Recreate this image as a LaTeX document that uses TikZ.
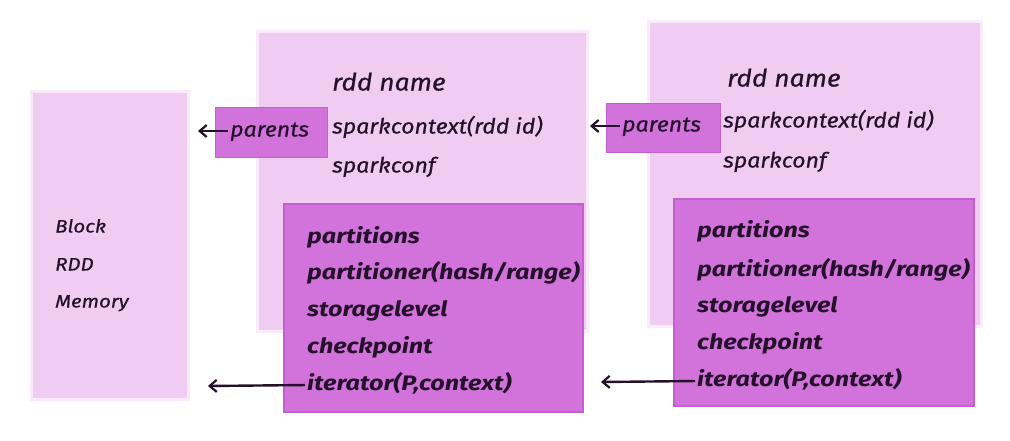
\documentclass[tikz,border=0pt]{standalone}
\usepackage{fontspec}
\setmainfont{Fira Sans}
\newfontfamily\handreg[FakeStretch=1.1,FakeBold=0.6]{Fira Sans}
\newfontfamily\handbold[FakeStretch=1.2]{Fira Sans}
\newfontfamily\handsmall[FakeStretch=1.14,FakeBold=0.6]{Fira Sans}
\usetikzlibrary{arrows.meta}
\definecolor{lightbox}{HTML}{F0CCF3}
\definecolor{lightedge}{HTML}{FAEBFB}
\definecolor{darkbox}{HTML}{D173DB}
\definecolor{darkedge}{HTML}{C45FCF}
\definecolor{inkc}{HTML}{24102A}
\tikzset{
  lightpanel/.style={fill=lightbox, draw=lightedge, line width=3pt, inner sep=0pt, anchor=north west},
  darkpanel/.style={fill=darkbox, draw=darkedge, line width=1.5pt, inner sep=0pt, anchor=north west},
  tagbox/.style={fill=darkbox, draw=darkedge, line width=1pt, inner sep=0pt, anchor=north west},
  txt/.style={anchor=west, inner sep=0pt, text=inkc, font=\handreg\fontsize{21}{24}\selectfont\itshape, text height=15pt, text depth=4pt},
  title/.style={txt, font=\handreg\fontsize{24}{27}\selectfont\itshape},
  boldtxt/.style={txt, font=\handbold\fontsize{21}{24}\selectfont\bfseries\itshape},
  smalltxt/.style={txt, font=\handsmall\fontsize{18}{21}\selectfont\itshape},
  arr/.style={draw=inkc, line width=2.4pt, shorten <=2pt, -{Straight Barb[length=7pt,width=12pt,line width=2.2pt]}}
}
\begin{document}
\begin{tikzpicture}[x=1pt,y=-1pt]
\useasboundingbox[fill=white] (0,0) rectangle (1010,440);

% left memory column
\node[lightpanel, minimum width=157pt, minimum height=308pt] (mem) at (30,90) {};
\node[smalltxt] (blk) at (55,227) {Block};
\node[smalltxt] (rdd) at (55,265) {RDD};
\node[smalltxt] (memt) at (55,302) {Memory};

% middle RDD
\node[lightpanel, minimum width=330pt, minimum height=300pt] (rddA) at (256,30) {};
\node[darkpanel, minimum width=299pt, minimum height=208pt] (innA) at (283,203) {};
\node[tagbox, minimum width=112pt, minimum height=50pt] (parA) at (215,107) {};
\node[txt] (parAt) at (230,131) {parents};
\node[title] (nameA) at (332,85) {rdd name};
\node[txt] (scA) at (332,128) {sparkcontext(rdd id)};
\node[txt] (cfA) at (332,167) {sparkconf};
\node[boldtxt] (p1A) at (307,238) {partitions};
\node[boldtxt] (p2A) at (307,274) {partitioner(hash/range)};
\node[boldtxt] (p3A) at (307,311) {storagelevel};
\node[boldtxt] (p4A) at (307,348) {checkpoint};
\node[boldtxt] (p5A) at (307,385) {iterator(P,context)};

% right RDD
\node[lightpanel, minimum width=333pt, minimum height=305pt] (rddB) at (647,20) {};
\node[darkpanel, minimum width=300pt, minimum height=207pt] (innB) at (673,198) {};
\node[tagbox, minimum width=114pt, minimum height=49pt] (parB) at (606,103) {};
\node[txt] (parBt) at (622,126) {parents};
\node[title] (nameB) at (727,81) {rdd name};
\node[txt] (scB) at (723,122) {sparkcontext(rdd id)};
\node[txt] (cfB) at (723,162) {sparkconf};
\node[boldtxt] (p1B) at (697,232) {partitions};
\node[boldtxt] (p2B) at (697,271) {partitioner(hash/range)};
\node[boldtxt] (p3B) at (697,307) {storagelevel};
\node[boldtxt] (p4B) at (697,344) {checkpoint};
\node[boldtxt] (p5B) at (697,381) {iterator(P,context)};

% connector ends
\coordinate (eA1) at (198,131);
\coordinate (eA2) at (208,386);
\coordinate (eB1) at (590,126);
\coordinate (eB2) at (601,382);

\draw[arr] (parAt.west) -- (eA1);
\draw[arr] (p5A.west) -- (eA2);
\draw[arr] (parBt.west) -- (eB1);
\draw[arr] (p5B.west) -- (eB2);
\end{tikzpicture}
\end{document}
